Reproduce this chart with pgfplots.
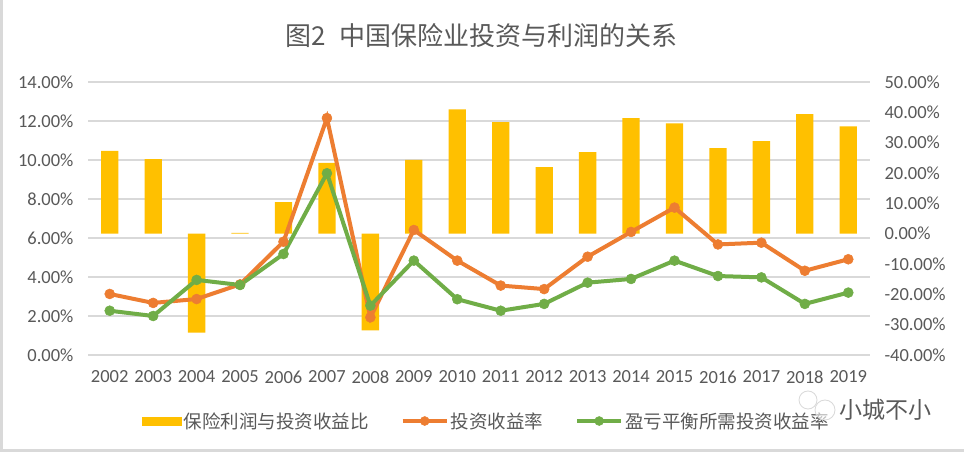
\documentclass[border=0pt]{standalone}
\usepackage{fontspec}
\setmainfont{Carlito}
\newfontfamily\cjk{Noto Sans CJK SC}
\usepackage{pgfplots}
\usepackage{pgfplotstable}
\pgfplotsset{compat=1.18}
\definecolor{cbar}{HTML}{FFC000}
\definecolor{corange}{HTML}{ED7D31}
\definecolor{cgreen}{HTML}{70AD47}
\definecolor{cgrid}{HTML}{D9D9D9}
\definecolor{ctext}{HTML}{595959}

\pgfplotstableread{
x bar inv brk
0 27.3 3.13 2.27
1 24.6 2.67 2.00
2 -32.6 2.87 3.85
3 0.3 3.62 3.59
4 10.4 5.81 5.18
5 23.3 12.15 9.32
6 -31.9 1.93 2.53
7 24.3 6.41 4.84
8 41.0 4.84 2.86
9 36.8 3.56 2.27
10 21.9 3.38 2.62
11 26.9 5.04 3.71
12 38.1 6.31 3.90
13 36.4 7.56 4.84
14 28.2 5.67 4.05
15 30.5 5.76 3.98
16 39.4 4.32 2.62
17 35.4 4.91 3.20
}\data

\pgfplotsset{
  base/.style={
    scale only axis, width=782pt, height=273pt,
    at={(88pt,97pt)}, anchor=south west,
    xmin=-0.5, xmax=17.5,
    axis line style={draw=none},
    major tick length=0pt,
    tick label style={font=\fontsize{18.5}{20}\selectfont, text=ctext},
    /pgf/number format/assume math mode=true,
  },
  linelegend/.style={legend image code/.code={\draw[mark repeat=2, mark phase=2, ##1, mark size=4.5pt] plot coordinates {(0pt,0pt) (22pt,0pt) (44pt,0pt)};}},
  barlegend/.style={legend image code/.code={\fill[cbar] (0pt,-4pt) rectangle (39pt,4pt);}},
}

\begin{document}
\begin{tikzpicture}
\useasboundingbox (0pt,0pt) rectangle (964pt,452pt);
\fill[white] (0pt,0pt) rectangle (964pt,452pt);
\draw[cgrid, line width=3pt] (1.5pt,452pt) -- (1.5pt,1.5pt) -- (964pt,1.5pt);

\node[text=ctext, font=\cjk\fontsize{26}{30}\selectfont] at (481.5pt,416pt) {图2\hspace{14pt}中国保险业投资与利润的关系};

% axis 1: grid, left ticks, x labels
\begin{axis}[base,
  ymin=0, ymax=14, ytick={0,2,...,14},
  ymajorgrids, grid style={cgrid, line width=1.2pt},
  yticklabel={\pgfmathprintnumber[fixed,fixed zerofill,precision=2]{\tick}\%},
  yticklabel style={xshift=-11pt},
  xtick={0,...,17},
  xticklabels={2002,2003,2004,2005,2006,2007,2008,2009,2010,2011,2012,2013,2014,2015,2016,2017,2018,2019},
  xticklabel style={yshift=-12pt},
]
\end{axis}

% axis 2: bars, right axis
\begin{axis}[base,
  ymin=-40, ymax=50, ytick={-40,-30,...,50},
  axis x line=none,
  axis y line*=right,
  yticklabel={\pgfmathprintnumber[fixed,fixed zerofill,precision=2]{\tick}\%},
  yticklabel style={xshift=11pt},
]
\addplot[ybar, bar width=17.3pt, fill=cbar, draw=none] table[x=x, y=bar] {\data};
\end{axis}

% axis 3: lines
\begin{axis}[base,
  ymin=0, ymax=14, hide axis,
  legend style={at={(0.5096,-0.2418)}, anchor=center, draw=none, fill=none,
    legend columns=3,
    font=\cjk\fontsize{18.5}{20}\selectfont, text=ctext,
    /tikz/every even column/.append style={column sep=30pt},
    nodes={inner xsep=2pt}},
]
\addlegendimage{barlegend}
\addlegendentry{保险利润与投资收益比}
\addplot[corange, line width=4pt, mark=*, mark size=5pt,
  mark options={solid, line width=0.5pt, fill=corange}, linelegend]
  table[x=x, y=inv] {\data};
\addlegendentry{投资收益率}
\addplot[cgreen, line width=4pt, mark=*, mark size=5pt,
  mark options={solid, line width=0.5pt, fill=cgreen}, linelegend]
  table[x=x, y=brk] {\data};
\addlegendentry{盈亏平衡所需投资收益率}
\end{axis}

% watermark
\fill[white, opacity=0.6] (808pt,52pt) circle (9pt);
\draw[cgrid, line width=0.8pt] (808pt,52pt) circle (9pt);
\fill[white, opacity=0.6] (825pt,42pt) circle (10pt);
\draw[cgrid, line width=0.8pt] (825pt,42pt) circle (10pt);
\node[text=ctext, font=\cjk\fontsize{23}{26}\selectfont] at (885pt,42pt) {小城不小};
\end{tikzpicture}
\end{document}
